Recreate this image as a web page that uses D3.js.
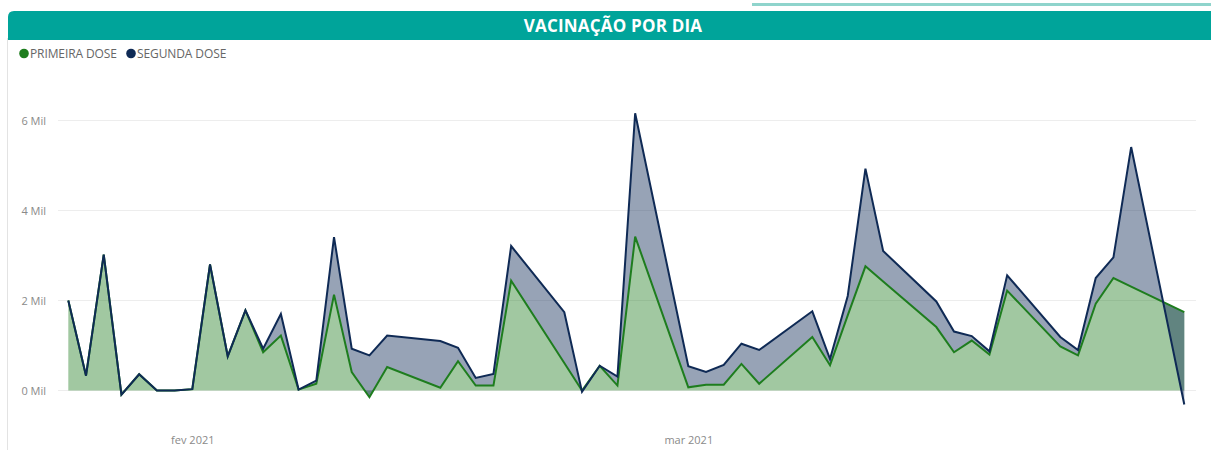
<!DOCTYPE html>
<html>
<head>
<meta charset="utf-8">
<script src="https://cdn.jsdelivr.net/npm/d3@7"></script>
<style>
  html, body { margin: 0; padding: 0; background: #fff; }
  svg { display: block; font-family: "Segoe UI", "Open Sans", sans-serif; }
</style>
</head>
<body>
<svg id="chart" width="1211" height="450"></svg>
<script>
// ---- data (values in doses per day) ----
const dates = [
  "2021-01-25","2021-01-26","2021-01-27","2021-01-28","2021-01-29","2021-01-30","2021-01-31",
  "2021-02-01","2021-02-02","2021-02-03","2021-02-04","2021-02-05","2021-02-06","2021-02-07",
  "2021-02-08","2021-02-09","2021-02-10","2021-02-11","2021-02-12",
  "2021-02-15","2021-02-16","2021-02-17","2021-02-18","2021-02-19",
  "2021-02-22","2021-02-23","2021-02-24","2021-02-25","2021-02-26",
  "2021-03-01","2021-03-02","2021-03-03","2021-03-04","2021-03-05",
  "2021-03-08","2021-03-09","2021-03-10","2021-03-11","2021-03-12",
  "2021-03-15","2021-03-16","2021-03-17","2021-03-18","2021-03-19",
  "2021-03-22","2021-03-23","2021-03-24","2021-03-25","2021-03-26",
  "2021-03-29"
];
const primeiraDose = [
  2000, 330, 3020, -90, 360, 0, 0,
  30, 2800, 760, 1780, 850, 1220, 20,
  150, 2130, 410, -150, 520,
  60, 650, 110, 110, 2440,
  610, 0, 550, 110, 3420,
  70, 130, 130, 590, 150,
  1190, 560, 1670, 2760, 2420,
  1410, 850, 1110, 800, 2220,
  980, 780, 1930, 2500, 2310,
  1740
];
const segundaDose = [
  0, 0, 0, 0, 0, 0, 0,
  0, 0, 0, 0, 80, 480, 0,
  70, 1280, 520, 930, 700,
  1040, 300, 170, 260, 770,
  1130, -30, 0, 200, 2740,
  470, 280, 440, 450, 750,
  570, 140, 430, 2170, 680,
  570, 460, 100, 70, 340,
  210, 120, 570, 460, 3100,
  -2050
];
const seriesNames = ["PRIMEIRA DOSE", "SEGUNDA DOSE"];
const yTickValues = [0, 2000, 4000, 6000];
const yTickLabels = ["0 Mil", "2 Mil", "4 Mil", "6 Mil"];
const xTickDates = ["2021-02-01", "2021-03-01"];
const xTickLabels = ["fev 2021", "mar 2021"];
const title = "VACINAÇÃO POR DIA";

// ---- setup ----
const parse = d3.utcParse("%Y-%m-%d");
const rows = dates.map((d, i) => ({ date: parse(d), p: primeiraDose[i], s: segundaDose[i] }));
const svg = d3.select("#chart");

const green = "#1e7d1e", navy = "#0f2a55";

// header strip
svg.append("rect").attr("x", 752).attr("y", 3).attr("width", 459).attr("height", 3).attr("fill", "#8fd4cc");
// left border
svg.append("line").attr("x1", 7.5).attr("x2", 7.5).attr("y1", 38).attr("y2", 450)
  .attr("stroke", "#e3e3e3").attr("stroke-width", 1);
// title bar
svg.append("path")
  .attr("d", "M8,17 Q8,11 14,11 L1211,11 L1211,40 L8,40 Z")
  .attr("fill", "#00a49a");
svg.append("text").attr("x", 613).attr("y", 31.5).attr("text-anchor", "middle")
  .attr("fill", "#fff").attr("font-weight", "bold").attr("font-size", 17)
  .attr("letter-spacing", 0.2)
  .text(title);

// legend
const legend = svg.append("g");
const legendColors = [green, navy];
const legendX = [24, 131];
seriesNames.forEach((n, i) => {
  legend.append("circle").attr("cx", legendX[i]).attr("cy", 53.5).attr("r", 4.8).attr("fill", legendColors[i]);
  legend.append("text").attr("x", legendX[i] + 6).attr("y", 57.5).attr("font-size", 12)
    .attr("fill", "#666").attr("letter-spacing", -0.1).text(n);
});

// scales
const x = d3.scaleUtc().domain([parse(dates[0]), parse(dates[dates.length - 1])]).range([68.3, 1184.3]);
const y = d3.scaleLinear().domain([0, 6000]).range([390.5, 120.5]);

// gridlines
svg.append("g").selectAll("line").data(yTickValues).join("line")
  .attr("x1", 58).attr("x2", 1196)
  .attr("y1", d => y(d)).attr("y2", d => y(d))
  .attr("stroke", "#ededed").attr("stroke-width", 1.2);

// y axis
const yAxis = d3.axisLeft(y).tickValues(yTickValues).tickSize(0).tickPadding(0)
  .tickFormat((d, i) => yTickLabels[i]);
const yg = svg.append("g").attr("transform", "translate(46,0)").call(yAxis);
yg.select(".domain").remove();
yg.selectAll("text").attr("fill", "#8a8a8a").attr("font-size", 11)
  .attr("font-family", "\"Segoe UI\", \"Open Sans\", sans-serif");

// x axis
const xAxis = d3.axisBottom(x).tickValues(xTickDates.map(parse)).tickSize(0)
  .tickFormat((d, i) => xTickLabels[i]);
const xg = svg.append("g").attr("transform", "translate(0,433)").call(xAxis);
xg.select(".domain").remove();
xg.selectAll("text").attr("fill", "#8a8a8a").attr("font-size", 11)
  .attr("font-family", "\"Segoe UI\", \"Open Sans\", sans-serif");

// stack
const stack = d3.stack().keys(["p", "s"]).offset(d3.stackOffsetNone).order(d3.stackOrderNone);
const layers = stack(rows);

const area = d3.area().x(d => x(d.data.date)).y0(d => y(d[0])).y1(d => y(d[1]));
const line = d3.line().x(d => x(d.data.date)).y(d => y(d[1]));

svg.append("path").datum(layers[0]).attr("d", area).attr("fill", green).attr("fill-opacity", 0.42);
svg.append("path").datum(layers[1]).attr("d", area).attr("fill", navy).attr("fill-opacity", 0.43);

svg.append("path").datum(layers[0]).attr("d", line).attr("fill", "none")
  .attr("stroke", green).attr("stroke-width", 2).attr("stroke-linejoin", "miter");
svg.append("path").datum(layers[1]).attr("d", line).attr("fill", "none")
  .attr("stroke", navy).attr("stroke-width", 2).attr("stroke-linejoin", "miter");
</script>
</body>
</html>
